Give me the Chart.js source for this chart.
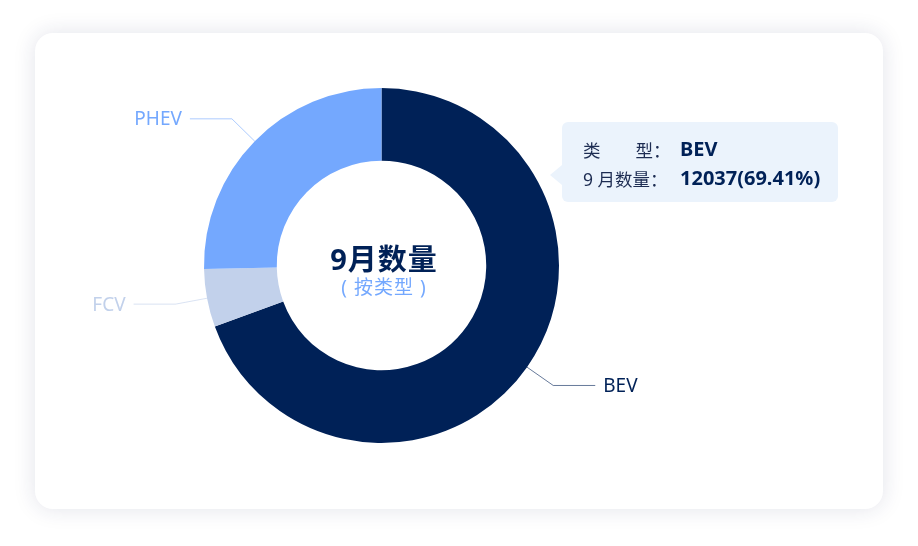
<!DOCTYPE html>
<html>
<head>
<meta charset="utf-8">
<script src="https://cdn.jsdelivr.net/npm/chart.js@4"></script>
<style>
  html, body { margin:0; padding:0; background:#fff; }
  body { width:918px; height:546px; position:relative; overflow:hidden;
         font-family:"Noto Sans","Noto Sans CJK SC",sans-serif; }
  .card { position:absolute; left:35px; top:33px; width:848px; height:476px;
          background:#fff; border-radius:18px;
          box-shadow:0 0 22px rgba(30,40,90,0.13); }
  #chart { position:absolute; left:0; top:0; }
  .center { position:absolute; left:246px; width:206px; text-align:center; }
  .title { top:203px; font-size:29px; font-weight:700; color:#002157; letter-spacing:1px; }
  .sub { top:239px; font-size:19px; color:#74a8fe; letter-spacing:1px; }
  .tip { position:absolute; left:527px; top:89px; width:276px; height:80px;
         background:#ebf3fc; border-radius:6px; color:#1d2c52; font-size:17.5px; }
  .tip:before { content:''; position:absolute; left:-12px; top:43px;
         border-top:10px solid transparent; border-bottom:10px solid transparent;
         border-right:12px solid #ebf3fc; }
  .row { position:absolute; left:21px; white-space:nowrap; }
  .row b { position:absolute; left:97px; top:-2px; font-size:20px; color:#002157; }
</style>
</head>
<body>
<div class="card">
  <canvas id="chart" width="848" height="476"></canvas>
  <div class="center title" id="ctitle"></div>
  <div class="center sub" id="csub"></div>
  <div class="tip">
    <div class="row" style="top:15px"><span id="k1"></span><b id="v1"></b></div>
    <div class="row" style="top:44px"><span id="k2"></span><b id="v2"></b></div>
  </div>
</div>
<script>
// 9月数量 按类型
const categories = ['BEV', 'FCV', 'PHEV'];
const counts = [12037, 915, 4390];
const colors = ['#002157', '#c2d1eb', '#74a8fe'];
const centerTitle = '9月数量';
const centerSub = '( 按类型 )';
const tipKeys = ['类\u3000\u3000型：', '9 月数量：'];
const tipIndex = 0;

const total = counts.reduce((a, b) => a + b, 0);
document.getElementById('ctitle').textContent = centerTitle;
document.getElementById('csub').textContent = centerSub;
document.getElementById('k1').textContent = tipKeys[0];
document.getElementById('k2').textContent = tipKeys[1];
document.getElementById('v1').textContent = categories[tipIndex];
document.getElementById('v2').textContent =
  counts[tipIndex] + '(' + (counts[tipIndex] / total * 100).toFixed(2) + '%)';

// leader lines + outside labels
const labelLines = {
  id: 'labelLines',
  afterDatasetsDraw(chart) {
    const ctx = chart.ctx;
    const meta = chart.getDatasetMeta(0);
    meta.data.forEach((arc, i) => {
      const p = arc.getProps(['x', 'y', 'startAngle', 'endAngle', 'outerRadius'], true);
      const mid = (p.startAngle + p.endAngle) / 2;
      const c = Math.cos(mid), s = Math.sin(mid);
      const x0 = p.x + c * p.outerRadius, y0 = p.y + s * p.outerRadius;
      const x1 = p.x + c * (p.outerRadius + 32), y1 = p.y + s * (p.outerRadius + 32);
      const dir = c >= 0 ? 1 : -1;
      const x2 = x1 + dir * 42;
      ctx.save();
      ctx.strokeStyle = colors[i];
      ctx.globalAlpha = 0.6;
      ctx.lineWidth = 1;
      ctx.beginPath();
      ctx.moveTo(x0, y0);
      ctx.lineTo(x1, y1);
      ctx.lineTo(x2, y1);
      ctx.stroke();
      ctx.globalAlpha = 1;
      ctx.fillStyle = colors[i];
      ctx.font = '19px "Noto Sans", sans-serif';
      ctx.textAlign = dir > 0 ? 'left' : 'right';
      ctx.textBaseline = 'middle';
      ctx.fillText(categories[i], x2 + dir * 8, y1 + 1);
      ctx.restore();
    });
  }
};

new Chart(document.getElementById('chart'), {
  type: 'doughnut',
  data: {
    labels: categories,
    datasets: [{
      data: counts,
      backgroundColor: colors,
      borderWidth: 0,
      hoverOffset: 0
    }]
  },
  options: {
    responsive: false,
    animation: false,
    events: [],
    cutout: '59%',
    layout: { padding: { left: 168.5, right: 323.5, top: 55, bottom: 66 } },
    plugins: {
      legend: { display: false },
      tooltip: { enabled: false }
    }
  },
  plugins: [labelLines]
});
</script>
</body>
</html>
